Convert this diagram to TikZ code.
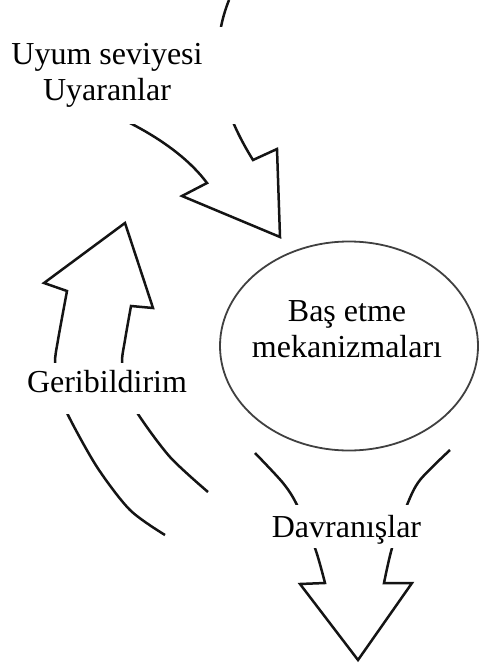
\documentclass[tikz,border=0pt]{standalone}
\usepackage{fontspec}
\setmainfont{Liberation Serif}
\usetikzlibrary{shapes.geometric}
\tikzset{
  blockline/.style={draw=black!92, line width=2.5pt, line join=miter},
  maskbox/.style={fill=white},
  lbl/.style={font=\fontsize{32}{36}\selectfont, inner sep=0pt, align=center},
  bubble/.style={ellipse, draw=black!75, line width=1.8pt, minimum width=258pt, minimum height=209pt, inner sep=0pt}
}
\begin{document}
\begin{tikzpicture}[x=1pt,y=-1pt]
\useasboundingbox (0,0) rectangle (481,668);
% top arrow (Uyum seviyesi / Uyaranlar)
\draw[blockline] (60,95) .. controls (110,110) and (175,140) .. (207,183)
  -- (182,196) -- (280,237) -- (277,149) -- (253,160)
  .. controls (225,115) and (205,60) .. (229,0);
% left arrow (Geribildirim)
\draw[blockline] plot[smooth] coordinates {(165,535) (130,510) (97,467) (68,415) (59,390) (55,363) (58,340) (67,291)}
  -- (44,283) -- (125,223) -- (153,308) -- (131,306)
  -- plot[smooth] coordinates {(131,306) (125,340) (122,363) (127,390) (138,414) (170,457) (208,492)};
% bottom arrow (Davranislar)
\draw[blockline] plot[smooth] coordinates {(255,453) (283,483) (297,505) (315,548) (325,583)}
  -- (300,584) -- (358,660) -- (412,583) -- (384,583)
  -- plot[smooth] coordinates {(384,583) (392,548) (407,505) (420,480) (450,450)};
% ellipse
\node[bubble] (cope) at (349,346) {};
% masks behind the labels
\fill[maskbox] (4,27) rectangle (242,124);
\fill[maskbox] (20,363) rectangle (195,414);
\fill[maskbox] (268,505) rectangle (425,548);
% labels
\node[lbl] (uyum) at (107,75.5) {Uyum seviyesi\\Uyaranlar};
\node[lbl] (copetext) at (347,329) {Baş etme\\mekanizmaları};
\node[lbl, anchor=base] (geri) at (107,392) {Geribildirim};
\node[lbl, anchor=base] (davr) at (346.5,537) {Davranışlar};
\end{tikzpicture}
\end{document}
